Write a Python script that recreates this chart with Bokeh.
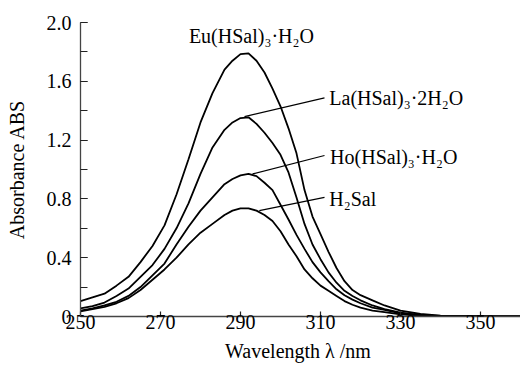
from bokeh.plotting import figure
from bokeh.models import Range1d, SingleIntervalTicker, FixedTicker, CustomJSTickFormatter
from bokeh.embed import file_html
from bokeh.resources import INLINE
from bokeh.core.properties import value

# ---- data ----
wavelength = [250, 253, 256, 259, 262, 265, 268, 271, 274, 277, 280, 283, 286, 288,
              290, 292, 294, 296, 298, 300, 302, 304, 306, 308, 310, 312, 314, 316,
              318, 320, 323, 326, 330, 335, 340, 350, 360]
eu_abs = [0.105, 0.13, 0.155, 0.21, 0.27, 0.37, 0.48, 0.62, 0.83, 1.07, 1.32, 1.52, 1.68, 1.74,
          1.785, 1.79, 1.74, 1.66, 1.55, 1.43, 1.28, 1.11, 0.86, 0.68, 0.56, 0.44, 0.33, 0.24,
          0.18, 0.145, 0.11, 0.075, 0.04, 0.017, 0.006, 0.002, 0.0]
la_abs = [0.055, 0.07, 0.095, 0.14, 0.19, 0.27, 0.35, 0.46, 0.60, 0.77, 0.97, 1.15, 1.27, 1.32,
          1.35, 1.355, 1.31, 1.25, 1.18, 1.10, 0.98, 0.81, 0.63, 0.49, 0.39, 0.30, 0.23, 0.175,
          0.14, 0.11, 0.075, 0.05, 0.027, 0.01, 0.004, 0.001, 0.0]
ho_abs = [0.04, 0.055, 0.075, 0.10, 0.14, 0.20, 0.28, 0.36, 0.49, 0.61, 0.72, 0.81, 0.90, 0.935,
          0.96, 0.97, 0.955, 0.91, 0.86, 0.76, 0.66, 0.555, 0.46, 0.37, 0.30, 0.24, 0.185, 0.145,
          0.115, 0.09, 0.06, 0.045, 0.022, 0.008, 0.002, 0.0, 0.0]
h2sal_abs = [0.035, 0.05, 0.065, 0.09, 0.125, 0.18, 0.25, 0.32, 0.40, 0.49, 0.57, 0.63, 0.69, 0.72,
             0.735, 0.735, 0.72, 0.69, 0.65, 0.58, 0.49, 0.41, 0.32, 0.26, 0.21, 0.175, 0.14, 0.105,
             0.08, 0.06, 0.04, 0.03, 0.015, 0.005, 0.0, 0.0, 0.0]

series = [eu_abs, la_abs, ho_abs, h2sal_abs]

# labels: text, anchor of text, leader line from curve to text (None for Eu)
labels = ["Eu(HSal)₃·H₂O", "La(HSal)₃·2H₂O", "Ho(HSal)₃·H₂O", "H₂Sal"]
label_x = [277.1, 312.2, 312.4, 312.2]
label_y = [1.91, 1.483, 1.082, 0.796]
leader_x0 = [None, 291.0, 293.0, 294.7]
leader_y0 = [None, 1.36, 0.97, 0.72]
leader_x1 = [None, 311.0, 311.0, 311.0]
leader_y1 = [None, 1.487, 1.095, 0.81]

x_ticks = [250, 270, 290, 310, 330, 350]

FONT = "Liberation Serif"

p = figure(width=520, height=371, output_backend="svg", toolbar_location=None,
           x_range=Range1d(250, 360), y_range=Range1d(0, 2.0),
           min_border_left=80, min_border_right=0, min_border_top=22, min_border_bottom=55)
p.outline_line_color = None
p.grid.grid_line_color = None
p.background_fill_color = "white"
p.border_fill_color = "white"

for s in series:
    p.line(wavelength, s, line_color="black", line_width=1.8)

for i in range(1, 4):
    p.segment(x0=[leader_x0[i]], y0=[leader_y0[i]], x1=[leader_x1[i]], y1=[leader_y1[i]],
              line_color="black", line_width=1.2)

p.text(x=label_x, y=label_y, text=labels, text_font=value(FONT), text_font_size="20px",
       text_align="left", text_baseline="middle", text_color="black")

# axes
xa = p.xaxis[0]
xa.ticker = FixedTicker(ticks=x_ticks)
xa.axis_label = "Wavelength  λ /nm"
ya = p.yaxis[0]
ya.ticker = SingleIntervalTicker(interval=0.4, num_minor_ticks=2)
ya.formatter = CustomJSTickFormatter(code="return tick == 0 ? '0' : tick.toFixed(1);")
ya.axis_label = "Absorbance ABS"

for ax in (xa, ya):
    ax.axis_line_color = "#444444"
    ax.axis_line_width = 1.3
    ax.major_tick_line_color = "#222222"
    ax.major_tick_line_width = 1.2
    ax.minor_tick_line_color = "#222222"
    ax.minor_tick_line_width = 1.2
    ax.major_tick_out = 0
    ax.minor_tick_out = 0
    ax.major_label_text_font = FONT
    ax.major_label_text_font_size = "20px"
    ax.major_label_text_color = "black"
    ax.axis_label_text_font = FONT
    ax.axis_label_text_font_size = "20px"
    ax.axis_label_text_font_style = "normal"
    ax.axis_label_text_color = "black"

xa.major_tick_in = 5
xa.minor_tick_in = 0
xa.major_label_standoff = -2
xa.axis_label_standoff = 8
ya.major_tick_in = 7
ya.minor_tick_in = 7
ya.major_label_standoff = 9
ya.axis_label_standoff = 16

html = file_html(p, INLINE)
open("out.html", "w").write(html)
